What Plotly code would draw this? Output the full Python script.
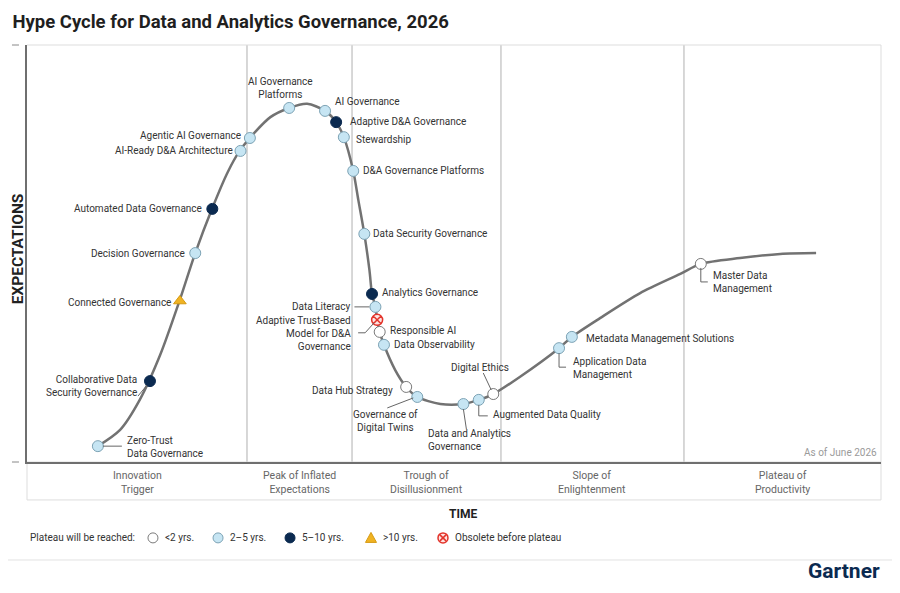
import plotly.graph_objects as go

# Hype curve (time, expectations)
CURVE_X = [8.3, 10.9, 13.2, 15.6, 17.9, 19.7, 21.7, 23.5, 24.9, 26.7, 28.5, 30.7,
           32.8, 34.9, 36.2, 37.1, 38.2, 38.8, 39.5, 40.1, 40.4, 40.8, 41.0, 41.3,
           41.8, 43.1, 44.4, 45.7, 48.4, 51.1, 52.9, 54.6, 57.7, 62.3, 63.8, 67.1,
           71.8, 76.5, 78.9, 83.5, 88.2, 92.4]
CURVE_Y = [3.8, 7.7, 14.9, 25.7, 38.9, 50.1, 60.9, 69.5, 74.6, 79.1, 82.7, 84.9,
           85.9, 84.2, 81.5, 77.9, 69.8, 62.8, 54.7, 46.0, 40.3, 37.2, 34.1, 31.2,
           28.1, 22.1, 18.0, 15.6, 13.9, 13.9, 14.9, 16.3, 20.4, 27.3, 30.0, 34.5,
           40.5, 45.1, 47.5, 48.9, 49.9, 50.1]

# technologies on the curve
TECH_NAMES = [
    "Zero-Trust<br>Data Governance",
    "Collaborative Data<br>Security Governance",
    "Connected Governance",
    "Decision Governance",
    "Automated Data Governance",
    "AI-Ready D&A Architecture",
    "Agentic AI Governance",
    "AI Governance<br>Platforms",
    "AI Governance",
    "Adaptive D&A Governance",
    "Stewardship",
    "D&A Governance Platforms",
    "Data Security Governance",
    "Analytics Governance",
    "Data Literacy",
    "Adaptive Trust-Based<br>Model for D&A<br>Governance",
    "Responsible AI",
    "Data Observability",
    "Data Hub Strategy",
    "Governance of<br>Digital Twins",
    "Data and Analytics<br>Governance",
    "Augmented Data Quality",
    "Digital Ethics",
    "Application Data<br>Management",
    "Metadata Management Solutions",
    "Master Data<br>Management",
]
TECH_X = [8.3, 14.4, 17.9, 19.7, 21.7, 25.0, 26.1, 30.7, 34.9, 36.2, 37.1, 38.2,
          39.5, 40.4, 40.8, 41.0, 41.3, 41.8, 44.4, 45.7, 51.1, 52.9, 54.6, 62.3,
          63.8, 78.9]
TECH_Y = [3.8, 19.4, 38.6, 50.1, 60.7, 74.6, 77.7, 84.9, 84.2, 81.5, 77.9, 69.8,
          54.7, 40.3, 37.2, 34.1, 31.2, 28.1, 18.0, 15.6, 13.9, 14.9, 16.3, 27.3,
          30.0, 47.5]
TECH_PLATEAU = ["2-5", "5-10", ">10", "2-5", "5-10", "2-5", "2-5", "2-5", "2-5",
                "5-10", "2-5", "2-5", "2-5", "5-10", "2-5", "obsolete", "<2", "2-5",
                "<2", "2-5", "2-5", "2-5", "<2", "2-5", "2-5", "<2"]

PHASES = ["Innovation<br>Trigger", "Peak of Inflated<br>Expectations",
          "Trough of<br>Disillusionment", "Slope of<br>Enlightenment",
          "Plateau of<br>Productivity"]
PHASE_EDGES = [0, 25.76, 38.06, 55.5, 76.93, 100]

LEGEND_KEYS = ["<2", "2-5", "5-10", ">10", "obsolete"]
LEGEND_NAMES = ["<2 yrs.", "2\u20135 yrs.", "5\u201310 yrs.", ">10 yrs.", "Obsolete before plateau"]

# marker styles per plateau class
STYLE = {
    "<2": dict(symbol="circle", color="white", line=dict(color="#7a7a7a", width=1), size=11),
    "2-5": dict(symbol="circle", color="#c6e5f3", line=dict(color="#7da3b5", width=1), size=11),
    "5-10": dict(symbol="circle", color="#0b2a50", line=dict(color="#0b2a50", width=1), size=11),
    ">10": dict(symbol="triangle-up", color="#f0b323", line=dict(color="#d69a12", width=1), size=11),
    "obsolete": dict(symbol="circle-x", color="#fde3e1", line=dict(color="#e3342b", width=1.5), size=11),
}

# label placement: pixel shift from the point (dx, dy down), anchor, alignment
LABEL_POS = {
    0: (27, 1, "left", "left"),
    1: (-11, 5, "right", "right"),
    2: (-7, 1, "right", "right"),
    3: (-8, 0, "right", "right"),
    4: (-8, 0, "right", "right"),
    5: (-6, 0, "right", "right"),
    6: (-7, -2, "right", "right"),
    7: (-9, -20, "center", "center"),
    8: (8, -9, "left", "left"),
    9: (12, -1, "left", "left"),
    10: (10, 2, "left", "left"),
    11: (8, 0, "left", "left"),
    12: (7, 0, "left", "left"),
    13: (8, -1, "left", "left"),
    14: (-23, 0, "right", "right"),
    15: (-24, 14, "right", "right"),
    16: (8, -1, "left", "left"),
    17: (8, 0, "left", "left"),
    18: (-11, 4, "right", "right"),
    19: (-32, 24, "center", "center"),
    20: (-37, 36, "left", "left"),
    21: (12, 15, "left", "left"),
    22: (-13, -27, "center", "center"),
    23: (12, 20, "left", "left"),
    24: (12, 2, "left", "left"),
    25: (10, 18, "left", "left"),
}
# leader lines: pixel offsets from the point (dx, dy down)
LEADERS = {
    0: [(5, 0), (24, 0)],
    1: [(-12, 15), (-3, 4)],
    14: [(-21, 0), (-6, 0)],
    15: [(-19, 13), (-12, 13), (-3, 3)],
    19: [(-30, 11), (-4, 1)],
    20: [(0, 5), (3, 25)],
    21: [(0, 5), (0, 16), (9, 16)],
    22: [(-10, -21), (-2, -4)],
    23: [(0, 5), (0, 19), (7, 19)],
    25: [(0, 4), (0, 18), (7, 18)],
}

# key row under the chart (paper x of each swatch)
KEY_X = [0.1475, 0.2237, 0.3080, 0.4028, 0.4871]
KEY_Y = -0.182

TEXT = "#333333"
FONT = "Roboto"

fig = go.Figure()

fig.add_trace(go.Scatter(x=CURVE_X, y=CURVE_Y, mode="lines",
                         line=dict(color="#727272", width=2.5, shape="spline", smoothing=0.8),
                         hoverinfo="skip", showlegend=False))

for key, name in zip(LEGEND_KEYS, LEGEND_NAMES):
    idx = [i for i, p in enumerate(TECH_PLATEAU) if p == key]
    fig.add_trace(go.Scatter(
        x=[TECH_X[i] for i in idx], y=[TECH_Y[i] for i in idx],
        text=[TECH_NAMES[i].replace("<br>", " ") for i in idx],
        mode="markers", name=name, marker=STYLE[key], hoverinfo="text",
        showlegend=False))

annotations = []
shapes = []

for i, name in enumerate(TECH_NAMES):
    dx, dy, anchor, align = LABEL_POS[i]
    annotations.append(dict(x=TECH_X[i], y=TECH_Y[i], text=name, showarrow=False,
                            xanchor=anchor, yanchor="middle", align=align,
                            xshift=dx, yshift=-dy,
                            font=dict(family=FONT, size=10, color=TEXT)))

for i, pts in LEADERS.items():
    path = "M" + " L".join(f"{px},{-py}" for px, py in pts)
    shapes.append(dict(type="path", path=path, xref="x", yref="y",
                       xsizemode="pixel", ysizemode="pixel",
                       xanchor=TECH_X[i], yanchor=TECH_Y[i],
                       line=dict(color="#666666", width=1)))

# phase separators and labels
for edge in PHASE_EDGES[1:-1]:
    shapes.append(dict(type="line", xref="x", yref="paper", x0=edge, x1=edge, y0=0, y1=1,
                       line=dict(color="#b0b0b0", width=1), layer="below"))
for k, label in enumerate(PHASES):
    annotations.append(dict(x=(PHASE_EDGES[k] + PHASE_EDGES[k + 1]) / 2, y=-0.048,
                            xref="x", yref="paper", text=label, showarrow=False,
                            yanchor="middle", font=dict(family=FONT, size=10.5, color="#666666")))

# key row: swatches drawn as small pixel-sized shapes
annotations.append(dict(x=0.0012, y=KEY_Y, xref="paper", yref="paper",
                        text="Plateau will be reached:", showarrow=False,
                        xanchor="left", yanchor="middle",
                        font=dict(family=FONT, size=10, color=TEXT)))
for kx, key, name in zip(KEY_X, LEGEND_KEYS, LEGEND_NAMES):
    st = STYLE[key]
    common = dict(xref="paper", yref="paper", xsizemode="pixel", ysizemode="pixel",
                  xanchor=kx, yanchor=KEY_Y)
    if key == ">10":
        shapes.append(dict(type="path", path="M-5.5,-4.5 L5.5,-4.5 L0,5.5 Z",
                           fillcolor=st["color"], line=st["line"], **common))
    else:
        shapes.append(dict(type="circle", x0=-5, x1=5, y0=-5, y1=5,
                           fillcolor=st["color"], line=st["line"], **common))
    if key == "obsolete":
        shapes.append(dict(type="path", path="M-3,-3 L3,3 M-3,3 L3,-3",
                           line=st["line"], **common))
    annotations.append(dict(x=kx, y=KEY_Y, xref="paper", yref="paper", text=name,
                            showarrow=False, xanchor="left", yanchor="middle", xshift=10,
                            font=dict(family=FONT, size=10, color=TEXT)))

# frame pieces
shapes += [
    dict(type="rect", xref="paper", yref="paper", x0=0, x1=1, y0=-0.091, y1=0,
         line=dict(color="#dddddd", width=1), layer="below"),
    dict(type="line", xref="paper", yref="paper", x0=0, x1=1, y0=1, y1=1,
         line=dict(color="#dddddd", width=1)),
    dict(type="line", xref="paper", yref="paper", x0=1, x1=1, y0=0, y1=1,
         line=dict(color="#dddddd", width=1)),
    dict(type="line", xref="paper", yref="paper", x0=-0.0176, x1=-0.0094, y0=1, y1=1,
         line=dict(color="#888888", width=1)),
    dict(type="line", xref="paper", yref="paper", x0=-0.0176, x1=-0.0094, y0=0, y1=0,
         line=dict(color="#888888", width=1)),
    dict(type="line", xref="paper", yref="paper", x0=-0.032, x1=1.022, y0=-0.235, y1=-0.235,
         line=dict(color="#e2e2e2", width=1)),
]

annotations += [
    dict(x=0.9977, y=0.022, xref="paper", yref="paper", text="As of June 2026",
         showarrow=False, xanchor="right", yanchor="middle",
         font=dict(family=FONT, size=10, color="#9a9a9a")),
    dict(x=0.51, y=-0.125, xref="paper", yref="paper", text="<b>TIME</b>",
         showarrow=False, yanchor="middle", font=dict(family=FONT, size=12, color="#222222")),
    dict(x=-0.0105, y=0.51, xref="paper", yref="paper", text="<b>EXPECTATIONS</b>",
         showarrow=False, textangle=-90, xanchor="center", yanchor="middle",
         font=dict(family=FONT, size=15.5, color="#222222")),
    dict(x=1.0, y=-0.2614, xref="paper", yref="paper", text="<b>Gartner</b>",
         showarrow=False, xanchor="right", yanchor="middle", borderpad=0,
         font=dict(family=FONT, size=21, color="#0b2a50")),
]

# the page adds an 8 px body margin, so the figure is a bit smaller than the window
fig.update_layout(
    width=884, height=577, autosize=False,
    margin=dict(l=19, r=11, t=37, b=123),
    paper_bgcolor="white", plot_bgcolor="white",
    title=dict(text="<b>Hype Cycle for Data and Analytics Governance, 2026</b>",
               x=0.005, xanchor="left", y=0.976, yanchor="middle",
               font=dict(family=FONT, size=18.5, color="#1f1f1f")),
    xaxis=dict(range=[0, 100], showgrid=False, zeroline=False, showticklabels=False,
               ticks="", showline=True, linecolor="#6f6f6f", linewidth=2, fixedrange=True),
    yaxis=dict(range=[0, 100], showgrid=False, zeroline=False, showticklabels=False,
               ticks="", showline=True, linecolor="#6f6f6f", linewidth=1.5, fixedrange=True),
    annotations=annotations,
    shapes=shapes,
    showlegend=False,
)

fig.write_html("out.html")
